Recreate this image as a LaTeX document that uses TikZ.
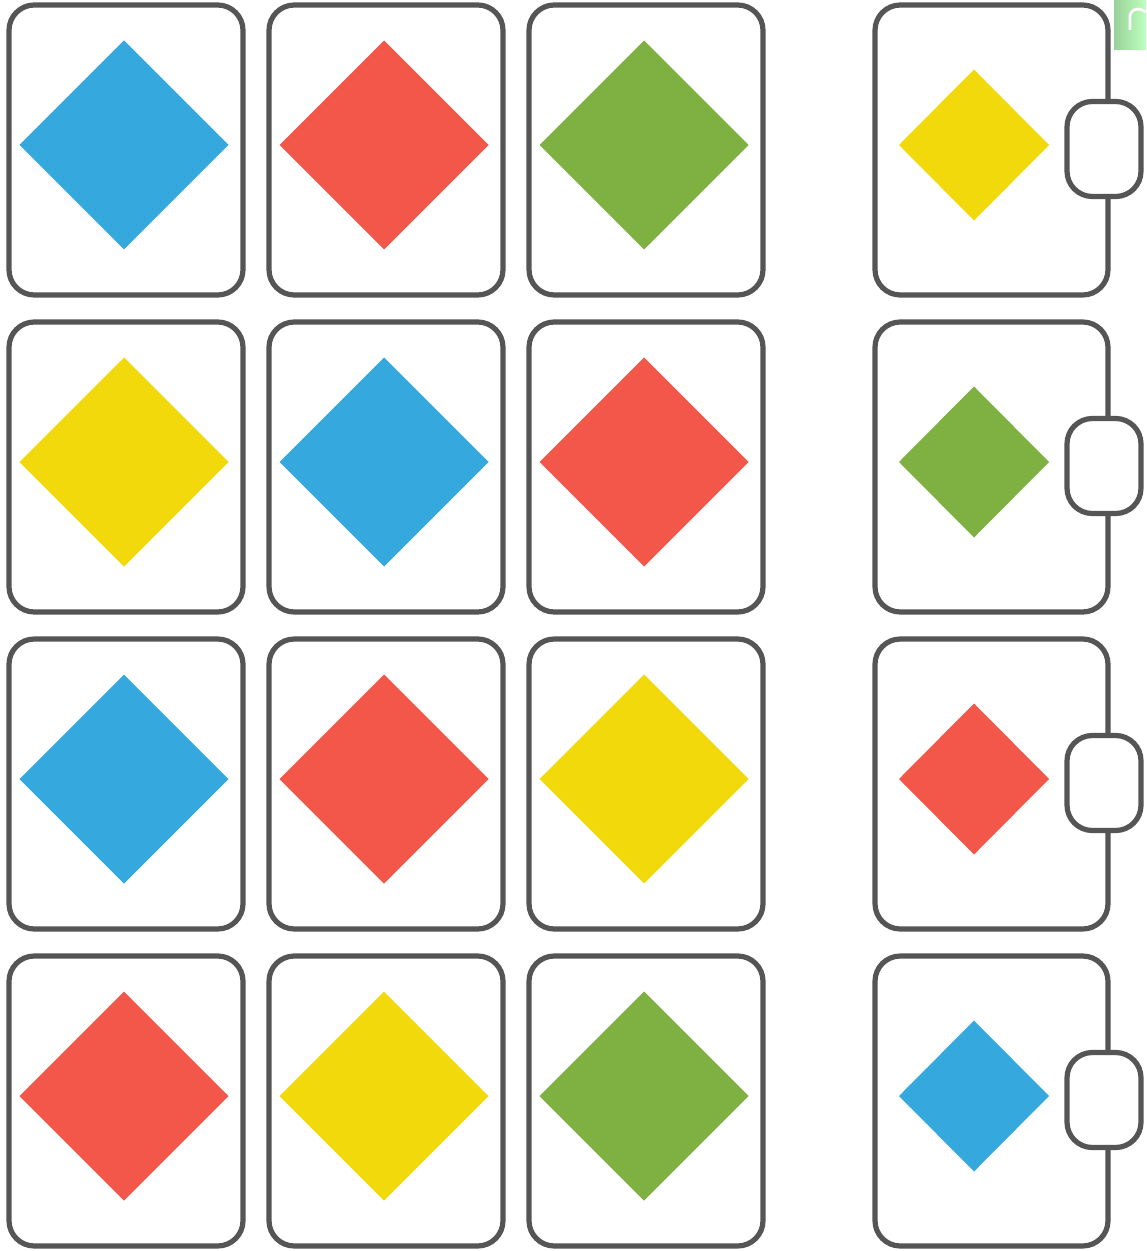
\documentclass[tikz,border=0pt]{standalone}
\usetikzlibrary{shapes.geometric}
\definecolor{cblue}{HTML}{35A8DE}
\definecolor{cred}{HTML}{F25749}
\definecolor{cgreen}{HTML}{7FB042}
\definecolor{cyellow}{HTML}{F2D90C}
\definecolor{cgray}{HTML}{555555}
\tikzset{
  card/.style={draw=cgray, line width=3.9pt, rounded corners=19pt, fill=white},
  tickbox/.style={draw=cgray, line width=3.9pt, rounded corners=19pt, fill=white},
}
\begin{document}
\begin{tikzpicture}[x=0.75pt,y=-0.75pt]
\useasboundingbox (0,0) rectangle (1146,1251);
% watermark fragment
\shade[left color=green!55!black!40, right color=green!25] (1114,0) rectangle (1146,50);
\draw[white, line width=2pt, rounded corners=3pt] (1130,30) -- (1130,12) -- (1138,8) -- (1146,12);
% grid of cards
\foreach \r/\ca/\cb/\cc [count=\i from 0] in {0/cblue/cred/cgreen, 1/cyellow/cblue/cred, 2/cblue/cred/cyellow, 3/cred/cyellow/cgreen}{
  \pgfmathsetmacro{\yt}{5+317*\i}
  \pgfmathsetmacro{\yc}{145+317*\i}
  \foreach \xl/\xc/\col in {9/124/\ca, 269/384/\cb, 529/644/\cc}{
    \draw[card] (\xl,\yt) rectangle ++(234,290);
    \fill[\col] (\xc-104.5,\yc) -- (\xc,\yc-104.5) -- (\xc+104.5,\yc) -- (\xc,\yc+104.5) -- cycle;
  }
}
% right column
\foreach \col [count=\i from 0] in {cyellow, cgreen, cred, cblue}{
  \pgfmathsetmacro{\yt}{5+317*\i}
  \pgfmathsetmacro{\yc}{145+317*\i}
  \draw[card] (875,\yt) rectangle ++(233,290);
  \fill[\col] (899,\yc) -- (974,\yc-75.5) -- (1049,\yc) -- (974,\yc+75.5) -- cycle;
  \draw[tickbox] (1067,\yc-43.5) rectangle ++(74,95);
}
\end{tikzpicture}
\end{document}
